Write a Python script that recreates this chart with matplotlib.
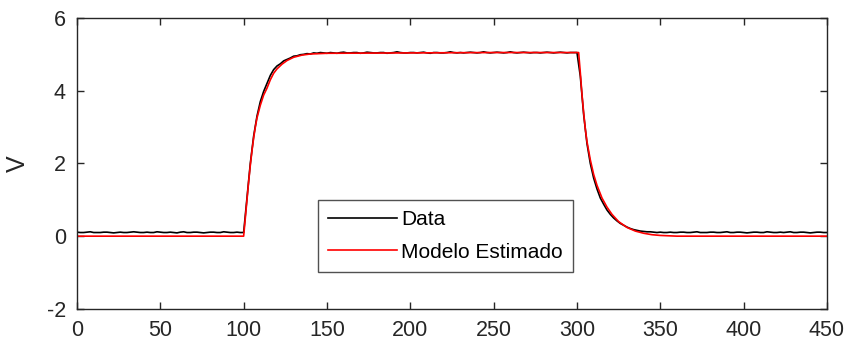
import numpy as np
import matplotlib.pyplot as plt

plt.rcParams['font.family'] = ['Liberation Sans', 'DejaVu Sans']
plt.rcParams['axes.unicode_minus'] = False

# Measured output, sampled every 2 s, split by stage
base_v = [0.11, 0.10, 0.10, 0.11, 0.12, 0.10, 0.10, 0.10, 0.11, 0.11,
          0.10, 0.09, 0.10, 0.11, 0.10, 0.10, 0.11, 0.12, 0.11, 0.10,
          0.10, 0.11, 0.10, 0.10, 0.12, 0.11, 0.10, 0.10, 0.11, 0.10,
          0.09, 0.11, 0.12, 0.10, 0.10, 0.11, 0.11, 0.10, 0.09, 0.10,
          0.11, 0.11, 0.10, 0.10, 0.12, 0.11, 0.10, 0.10, 0.11, 0.10]
rise_v = [0.10, 1.05, 2.00, 2.75, 3.30, 3.70, 3.98, 4.20, 4.42, 4.58,
          4.68, 4.74, 4.82, 4.86, 4.90, 4.95, 4.96, 4.99, 5.00, 5.02,
          5.01, 5.04, 5.03, 5.05, 5.04]
flat_v = [5.03, 5.05, 5.04, 5.03, 5.05, 5.06, 5.04, 5.04, 5.05, 5.05,
          5.03, 5.04, 5.06, 5.05, 5.04, 5.04, 5.05, 5.05, 5.03, 5.04,
          5.05, 5.07, 5.05, 5.04, 5.04, 5.05, 5.05, 5.04, 5.05, 5.06,
          5.04, 5.03, 5.05, 5.05, 5.04, 5.04, 5.05, 5.07, 5.05, 5.04,
          5.05, 5.04, 5.05, 5.06, 5.05, 5.04, 5.05, 5.07, 5.05, 5.04,
          5.05, 5.06, 5.05, 5.04, 5.05, 5.07, 5.05, 5.04, 5.05, 5.06,
          5.05, 5.04, 5.05, 5.05, 5.04, 5.05, 5.06, 5.05, 5.04, 5.05,
          5.06, 5.05, 5.04, 5.05, 5.05]
fall_v = [5.05, 4.40, 3.35, 2.55, 2.00, 1.60, 1.30, 1.05, 0.88, 0.72,
          0.60, 0.50, 0.42, 0.35, 0.30, 0.25, 0.21, 0.18, 0.16, 0.14,
          0.13, 0.12, 0.12, 0.11, 0.10]
tail_v = [0.11, 0.10, 0.10, 0.11, 0.10, 0.10, 0.11, 0.11, 0.10, 0.10,
          0.11, 0.12, 0.10, 0.10, 0.10, 0.11, 0.11, 0.10, 0.10, 0.11,
          0.12, 0.10, 0.10, 0.11, 0.11, 0.10, 0.09, 0.10, 0.11, 0.11,
          0.10, 0.10, 0.12, 0.11, 0.10, 0.10, 0.11, 0.10, 0.11, 0.12,
          0.10, 0.10, 0.11, 0.11, 0.10, 0.09, 0.10, 0.11, 0.11, 0.10,
          0.10]
seg_start = [0, 100, 150, 300, 350]

# Estimated model response
t_mod = [0, 100, 101, 102, 103, 104, 105, 106, 107, 108, 110, 112, 114,
         116, 118, 120, 123, 126, 130, 135, 140, 150, 200, 250, 300, 301,
         302, 303, 304, 305, 306, 308, 310, 312, 315, 318, 321, 325, 330,
         335, 340, 345, 350, 360, 450]
v_mod = [0.0, 0.0, 0.5, 1.0, 1.5, 1.95, 2.35, 2.7, 3.0, 3.25, 3.6, 3.88,
         4.07, 4.3, 4.48, 4.6, 4.73, 4.83, 4.92, 4.98, 5.01, 5.03, 5.04,
         5.05, 5.05, 5.05, 4.5, 3.9, 3.4, 2.95, 2.6, 2.1, 1.7, 1.4, 1.05,
         0.8, 0.6, 0.4, 0.24, 0.14, 0.08, 0.04, 0.02, 0.0, 0.0]

t_data, v_data = [], []
for s, vals in zip(seg_start, [base_v, rise_v, flat_v, fall_v, tail_v]):
    t_data.extend(np.arange(s, s + 2 * len(vals), 2))
    v_data.extend(vals)

fig = plt.figure(figsize=(8.46, 3.51), dpi=100)
ax = fig.add_axes([0.091, 0.12, 0.8865, 0.8287])

ax.plot(t_data, v_data, color='black', lw=1.2, label='Data')
ax.plot(t_mod, v_mod, color='red', lw=1.2, label='Modelo Estimado')

ax.set_xlim(0, 450)
ax.set_ylim(-2, 6)
ax.set_xticks(np.arange(0, 451, 50))
ax.set_yticks([-2, 0, 2, 4, 6])
ax.set_ylabel('V', fontsize=18, color='#262626', labelpad=12)

gray = '#262626'
for sp in ax.spines.values():
    sp.set_color(gray)
    sp.set_linewidth(1.0)
ax.tick_params(direction='in', length=5, width=1.0, color=gray,
               labelcolor=gray, labelsize=15.5, top=True, right=True, pad=8)

leg = ax.legend(loc='lower left', bbox_to_anchor=(0.321, 0.127),
                fontsize=15, fancybox=False, edgecolor=gray,
                handlelength=3.3, handletextpad=0.2, borderpad=0.5,
                labelspacing=0.65, borderaxespad=0)
leg.get_frame().set_linewidth(1.0)

fig.savefig('out.png', dpi=100)
